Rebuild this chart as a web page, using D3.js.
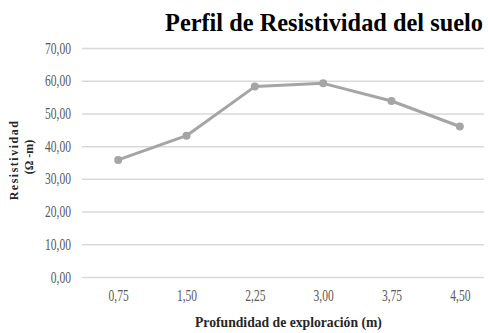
<!DOCTYPE html>
<html>
<head>
<meta charset="utf-8">
<script src="https://cdn.jsdelivr.net/npm/d3@7"></script>
<style>
  html, body { margin: 0; padding: 0; background: #fff; }
  svg { display: block; }
</style>
</head>
<body>
<svg id="chart" width="488" height="333"></svg>
<script>
// Profundidad de exploración (m) and measured resistividad (Ω-m)
const depths = ["0,75", "1,50", "2,25", "3,00", "3,75", "4,50"];
const resistivity = [35.8, 43.2, 58.2, 59.2, 53.8, 46.0];
const yTicks = [0, 10, 20, 30, 40, 50, 60, 70];

const svg = d3.select("#chart");
const W = 488, H = 333;
const plot = { left: 84, right: 494, top: 48, bottom: 277 };

const x = d3.scalePoint().domain(depths).range([plot.left, plot.right]).padding(0.5);
const y = d3.scaleLinear().domain([0, 70]).range([plot.bottom, plot.top]);

const fmt = v => d3.format(".2f")(v).replace(".", ",");

// squeeze a text element horizontally by factor k
function squeeze(sel, k) {
  sel.each(function () {
    const w = this.getComputedTextLength();
    d3.select(this).attr("textLength", w * k).attr("lengthAdjust", "spacingAndGlyphs");
  });
}

// place a text at (x0, y0) scaled horizontally to a given width
function fitText(parent, txt, x0, y0, width, attrs) {
  const g = parent.append("g");
  const t = g.append("text").attr("x", 0).attr("y", 0).text(txt);
  Object.entries(attrs).forEach(([k, v]) => t.attr(k, v));
  const w = t.node().getComputedTextLength();
  g.attr("transform", `translate(${x0},${y0}) scale(${width / w},1)`);
  return t;
}

// horizontal gridlines + y labels
const yAxis = d3.axisLeft(y).tickValues(yTicks).tickSize(-(W - plot.left - 2)).tickFormat(fmt).tickPadding(11);
const gy = svg.append("g").attr("transform", `translate(${plot.left - 2},0)`).call(yAxis);
gy.select(".domain").remove();
gy.selectAll(".tick line").attr("stroke", "#d9d9d9").attr("stroke-width", 1.5);
gy.selectAll(".tick text")
  .attr("fill", "#595959")
  .attr("font-family", "'Liberation Serif', 'Times New Roman', serif")
  .attr("font-size", 16)
  .call(squeeze, 0.72);

// x labels
const xAxis = d3.axisBottom(x).tickSize(0).tickPadding(13);
const gx = svg.append("g").attr("transform", `translate(0,${plot.bottom})`).call(xAxis);
gx.select(".domain").remove();
gx.selectAll(".tick text")
  .attr("fill", "#595959")
  .attr("font-family", "'Liberation Serif', 'Times New Roman', serif")
  .attr("font-size", 16)
  .call(squeeze, 0.72);

// series line
const line = d3.line().x((d, i) => x(depths[i])).y(d => y(d));
svg.append("path")
  .datum(resistivity)
  .attr("d", line)
  .attr("fill", "none")
  .attr("stroke", "#a5a5a5")
  .attr("stroke-width", 3)
  .attr("stroke-linejoin", "round");

svg.selectAll("circle.pt")
  .data(resistivity)
  .join("circle")
  .attr("class", "pt")
  .attr("cx", (d, i) => x(depths[i]))
  .attr("cy", d => y(d))
  .attr("r", 4)
  .attr("fill", "#a5a5a5");

// title
fitText(svg, "Perfil de Resistividad del suelo", 165, 31, 318, {
  "font-family": "'Liberation Serif', 'Times New Roman', serif",
  "font-weight": "bold",
  "font-size": 26,
  "fill": "#000"
});

// x axis title
fitText(svg, "Profundidad de exploración (m)", 195, 327, 187, {
  "font-family": "'Liberation Serif', 'Times New Roman', serif",
  "font-weight": "bold",
  "font-size": 15,
  "fill": "#262626"
});

// y axis title, two lines
const yt = svg.append("g").attr("transform", "translate(0,160) rotate(-90)");
yt.append("text")
  .attr("x", 0).attr("y", 18)
  .attr("text-anchor", "middle")
  .attr("font-family", "'Liberation Serif', 'Times New Roman', serif")
  .attr("font-weight", "bold")
  .attr("font-size", 12)
  .attr("letter-spacing", 1.5)
  .attr("fill", "#262626")
  .text("Resistividad");
yt.append("text")
  .attr("x", 3).attr("y", 33)
  .attr("text-anchor", "middle")
  .attr("font-family", "'Liberation Serif', 'Times New Roman', serif")
  .attr("font-weight", "bold")
  .attr("font-size", 12)
  .attr("fill", "#262626")
  .text("(Ω -m)");
</script>
</body>
</html>
